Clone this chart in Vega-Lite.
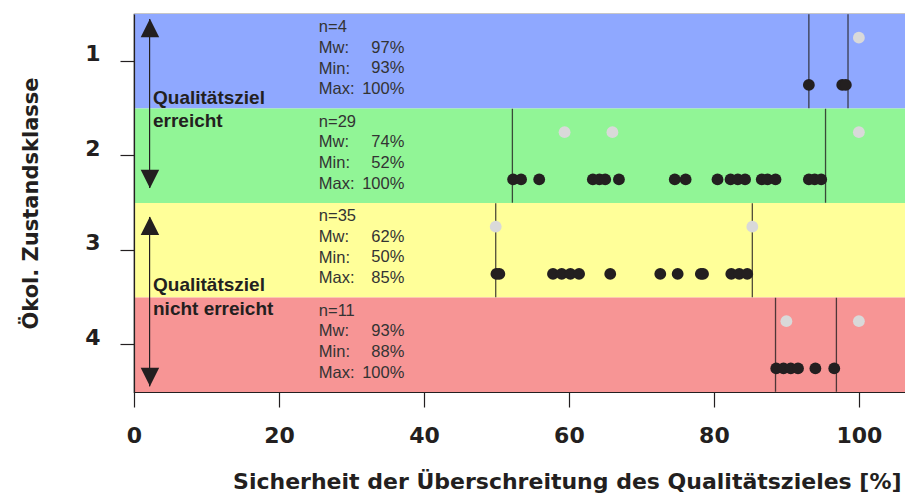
{
  "$schema": "https://vega.github.io/schema/vega-lite/v6.json",
  "width": 772,
  "height": 378,
  "autosize": {"type": "none"},
  "padding": {"left": 134, "top": 14, "right": 0, "bottom": 106},
  "background": "white",
  "config": {
    "view": {"stroke": "#231f20", "strokeWidth": 1.2},
    "font": "Liberation Sans"
  },
  "datasets": {
    "klassen": [
      {"klasse": 1, "labels": "n=4\nMw:\nMin:\nMax:", "werte": "97%\n93%\n100%"},
      {"klasse": 2, "labels": "n=29\nMw:\nMin:\nMax:", "werte": "74%\n52%\n100%"},
      {"klasse": 3, "labels": "n=35\nMw:\nMin:\nMax:", "werte": "62%\n50%\n85%"},
      {"klasse": 4, "labels": "n=11\nMw:\nMin:\nMax:", "werte": "93%\n88%\n100%"}
    ],
    "punkte": [
      {"klasse": 1, "gruppe": "schwarz", "wert": 93.1},
      {"klasse": 1, "gruppe": "schwarz", "wert": 97.7},
      {"klasse": 1, "gruppe": "schwarz", "wert": 98.2},
      {"klasse": 1, "gruppe": "grau", "wert": 100},
      {"klasse": 2, "gruppe": "schwarz", "wert": 52.3},
      {"klasse": 2, "gruppe": "schwarz", "wert": 53.4},
      {"klasse": 2, "gruppe": "schwarz", "wert": 55.9},
      {"klasse": 2, "gruppe": "schwarz", "wert": 63.3},
      {"klasse": 2, "gruppe": "schwarz", "wert": 64.2},
      {"klasse": 2, "gruppe": "schwarz", "wert": 65.0},
      {"klasse": 2, "gruppe": "schwarz", "wert": 66.9},
      {"klasse": 2, "gruppe": "schwarz", "wert": 74.6},
      {"klasse": 2, "gruppe": "schwarz", "wert": 76.1},
      {"klasse": 2, "gruppe": "schwarz", "wert": 80.5},
      {"klasse": 2, "gruppe": "schwarz", "wert": 82.3},
      {"klasse": 2, "gruppe": "schwarz", "wert": 83.3},
      {"klasse": 2, "gruppe": "schwarz", "wert": 84.3},
      {"klasse": 2, "gruppe": "schwarz", "wert": 86.6},
      {"klasse": 2, "gruppe": "schwarz", "wert": 87.4},
      {"klasse": 2, "gruppe": "schwarz", "wert": 88.5},
      {"klasse": 2, "gruppe": "schwarz", "wert": 93.1},
      {"klasse": 2, "gruppe": "schwarz", "wert": 93.9},
      {"klasse": 2, "gruppe": "schwarz", "wert": 94.8},
      {"klasse": 2, "gruppe": "grau", "wert": 59.4},
      {"klasse": 2, "gruppe": "grau", "wert": 66.0},
      {"klasse": 2, "gruppe": "grau", "wert": 100},
      {"klasse": 3, "gruppe": "schwarz", "wert": 50.0},
      {"klasse": 3, "gruppe": "schwarz", "wert": 50.4},
      {"klasse": 3, "gruppe": "schwarz", "wert": 57.8},
      {"klasse": 3, "gruppe": "schwarz", "wert": 59.0},
      {"klasse": 3, "gruppe": "schwarz", "wert": 60.2},
      {"klasse": 3, "gruppe": "schwarz", "wert": 61.4},
      {"klasse": 3, "gruppe": "schwarz", "wert": 65.7},
      {"klasse": 3, "gruppe": "schwarz", "wert": 72.6},
      {"klasse": 3, "gruppe": "schwarz", "wert": 75.0},
      {"klasse": 3, "gruppe": "schwarz", "wert": 78.2},
      {"klasse": 3, "gruppe": "schwarz", "wert": 78.5},
      {"klasse": 3, "gruppe": "schwarz", "wert": 82.4},
      {"klasse": 3, "gruppe": "schwarz", "wert": 83.5},
      {"klasse": 3, "gruppe": "schwarz", "wert": 84.6},
      {"klasse": 3, "gruppe": "grau", "wert": 49.9},
      {"klasse": 3, "gruppe": "grau", "wert": 85.3},
      {"klasse": 4, "gruppe": "schwarz", "wert": 88.6},
      {"klasse": 4, "gruppe": "schwarz", "wert": 89.6},
      {"klasse": 4, "gruppe": "schwarz", "wert": 90.6},
      {"klasse": 4, "gruppe": "schwarz", "wert": 91.6},
      {"klasse": 4, "gruppe": "schwarz", "wert": 94.0},
      {"klasse": 4, "gruppe": "schwarz", "wert": 96.6},
      {"klasse": 4, "gruppe": "grau", "wert": 90.0},
      {"klasse": 4, "gruppe": "grau", "wert": 100}
    ],
    "grenzen": [
      {"klasse": 1, "wert": 93.1},
      {"klasse": 1, "wert": 98.5},
      {"klasse": 2, "wert": 52.2},
      {"klasse": 2, "wert": 95.4},
      {"klasse": 3, "wert": 49.9},
      {"klasse": 3, "wert": 85.3},
      {"klasse": 4, "wert": 88.5},
      {"klasse": 4, "wert": 96.9}
    ],
    "pfeile": [
      {"wert": 2.15, "von": 0.553, "bis": 2.341},
      {"wert": 2.15, "von": 2.648, "bis": 4.441}
    ],
    "spitzen": [
      {"wert": 2.2, "y": 0.648, "richtung": "hoch"},
      {"wert": 2.2, "y": 2.246, "richtung": "runter"},
      {"wert": 2.2, "y": 2.742, "richtung": "hoch"},
      {"wert": 2.2, "y": 4.341, "richtung": "runter"}
    ],
    "hinweise": [
      {"wert": 2.62, "y": 1.385, "text": "Qualitätsziel\nerreicht"},
      {"wert": 2.62, "y": 3.37, "text": "Qualitätsziel\nnicht erreicht"}
    ]
  },
  "layer": [
    {
      "layer": [
        {
          "data": {"name": "klassen"},
          "mark": {"type": "rect"},
          "encoding": {
            "y": {
              "field": "klasse",
              "type": "ordinal",
              "scale": {"type": "band", "paddingInner": 0, "paddingOuter": 0},
              "axis": {
                "title": "Ökol. Zustandsklasse",
                "titleFont": "DejaVu Sans",
                "titleFontSize": 21,
                "titleFontWeight": "bold",
                "titleColor": "#231f20",
                "titlePadding": 43,
                "labelFont": "DejaVu Sans",
                "labelFontSize": 22,
                "labelFontWeight": "bold",
                "labelColor": "#231f20",
                "labelAngle": 0,
                "labelPadding": 20,
                "labelOffset": -7,
                "tickSize": 14,
                "tickColor": "#231f20",
                "tickWidth": 1.2,
                "domainColor": "#231f20",
                "domainWidth": 1.2
              }
            },
            "x": {"datum": 0, "type": "quantitative"},
            "x2": {"datum": 106.5},
            "fill": {
              "field": "klasse",
              "type": "ordinal",
              "scale": {"domain": [1, 2, 3, 4], "range": ["#8fa8ff", "#91f596", "#ffff99", "#f79595"]},
              "legend": null
            }
          }
        },
        {
          "data": {"name": "grenzen"},
          "mark": {"type": "tick", "orient": "vertical", "color": "#231f20", "thickness": 1.3, "size": 94, "opacity": 0.8},
          "encoding": {
            "y": {"field": "klasse", "type": "ordinal", "scale": {"type": "band", "paddingInner": 0, "paddingOuter": 0}},
            "x": {"field": "wert", "type": "quantitative", "title": "Sicherheit der Überschreitung des Qualitätszieles [%]"}
          }
        },
        {
          "data": {"name": "punkte"},
          "mark": {"type": "point", "filled": true, "shape": "circle", "size": 140, "opacity": 1},
          "encoding": {
            "y": {"field": "klasse", "type": "ordinal", "scale": {"type": "band", "paddingInner": 0, "paddingOuter": 0}},
            "yOffset": {
              "field": "gruppe",
              "type": "nominal",
              "scale": {"type": "band", "domain": ["grau", "schwarz"], "paddingInner": 0, "paddingOuter": 0}
            },
            "x": {
              "field": "wert",
              "type": "quantitative",
              "title": "Sicherheit der Überschreitung des Qualitätszieles [%]",
              "scale": {"domain": [0, 106.5], "nice": false, "zero": false},
              "axis": {
                "values": [0, 20, 40, 60, 80, 100],
                "grid": false,
                "tickSize": 15,
                "tickColor": "#231f20",
                "tickWidth": 1.2,
                "domainColor": "#231f20",
                "domainWidth": 1.2,
                "labelFont": "DejaVu Sans",
                "labelFontSize": 22,
                "labelFontWeight": "bold",
                "labelColor": "#231f20",
                "labelPadding": 18,
                "labelFlush": false,
                "titleFont": "DejaVu Sans",
                "titleFontSize": 22,
                "titleFontWeight": "bold",
                "titleColor": "#231f20",
                "titlePadding": 25,
                "titleAnchor": "end",
                "titleX": 767,
                "titleAlign": "right"
              }
            },
            "color": {
              "field": "gruppe",
              "type": "nominal",
              "scale": {"domain": ["grau", "schwarz"], "range": ["#d9d9d9", "#231f20"]},
              "legend": null
            }
          }
        },
        {
          "data": {"name": "klassen"},
          "mark": {"type": "text", "align": "left", "baseline": "middle", "lineBreak": "\n", "lineHeight": 20.7, "fontSize": 16.5, "color": "#333333", "dy": -34},
          "encoding": {
            "y": {"field": "klasse", "type": "ordinal", "scale": {"type": "band", "paddingInner": 0, "paddingOuter": 0}},
            "x": {"datum": 25.5, "type": "quantitative"},
            "text": {"field": "labels", "type": "nominal"}
          }
        },
        {
          "data": {"name": "klassen"},
          "mark": {"type": "text", "align": "right", "baseline": "middle", "lineBreak": "\n", "lineHeight": 20.7, "fontSize": 16.5, "color": "#333333", "dy": -13.5},
          "encoding": {
            "y": {"field": "klasse", "type": "ordinal", "scale": {"type": "band", "paddingInner": 0, "paddingOuter": 0}},
            "x": {"datum": 37.3, "type": "quantitative"},
            "text": {"field": "werte", "type": "nominal"}
          }
        }
      ]
    },
    {
      "layer": [
        {
          "data": {"name": "pfeile"},
          "mark": {"type": "rule", "color": "#231f20", "strokeWidth": 1.2},
          "encoding": {
            "x": {"field": "wert", "type": "quantitative", "title": "Sicherheit der Überschreitung des Qualitätszieles [%]"},
            "y": {
              "field": "von",
              "type": "quantitative",
              "scale": {"domain": [0.5, 4.5], "reverse": true, "nice": false, "zero": false},
              "axis": null
            },
            "y2": {"field": "bis"}
          }
        },
        {
          "data": {"name": "spitzen"},
          "mark": {"type": "point", "filled": true, "size": 342, "color": "#231f20", "opacity": 1},
          "encoding": {
            "x": {"field": "wert", "type": "quantitative", "title": "Sicherheit der Überschreitung des Qualitätszieles [%]"},
            "y": {"field": "y", "type": "quantitative"},
            "shape": {
              "field": "richtung",
              "type": "nominal",
              "scale": {"domain": ["hoch", "runter"], "range": ["M0,-1L1,1L-1,1Z", "M0,1L1,-1L-1,-1Z"]},
              "legend": null
            }
          }
        },
        {
          "data": {"name": "hinweise"},
          "mark": {"type": "text", "align": "left", "baseline": "middle", "lineBreak": "\n", "lineHeight": 23.5, "fontSize": 19, "fontWeight": "bold", "color": "#231f20"},
          "encoding": {
            "x": {"field": "wert", "type": "quantitative", "title": "Sicherheit der Überschreitung des Qualitätszieles [%]"},
            "y": {"field": "y", "type": "quantitative"},
            "text": {"field": "text", "type": "nominal"}
          }
        }
      ]
    }
  ],
  "resolve": {"scale": {"y": "independent"}}
}
